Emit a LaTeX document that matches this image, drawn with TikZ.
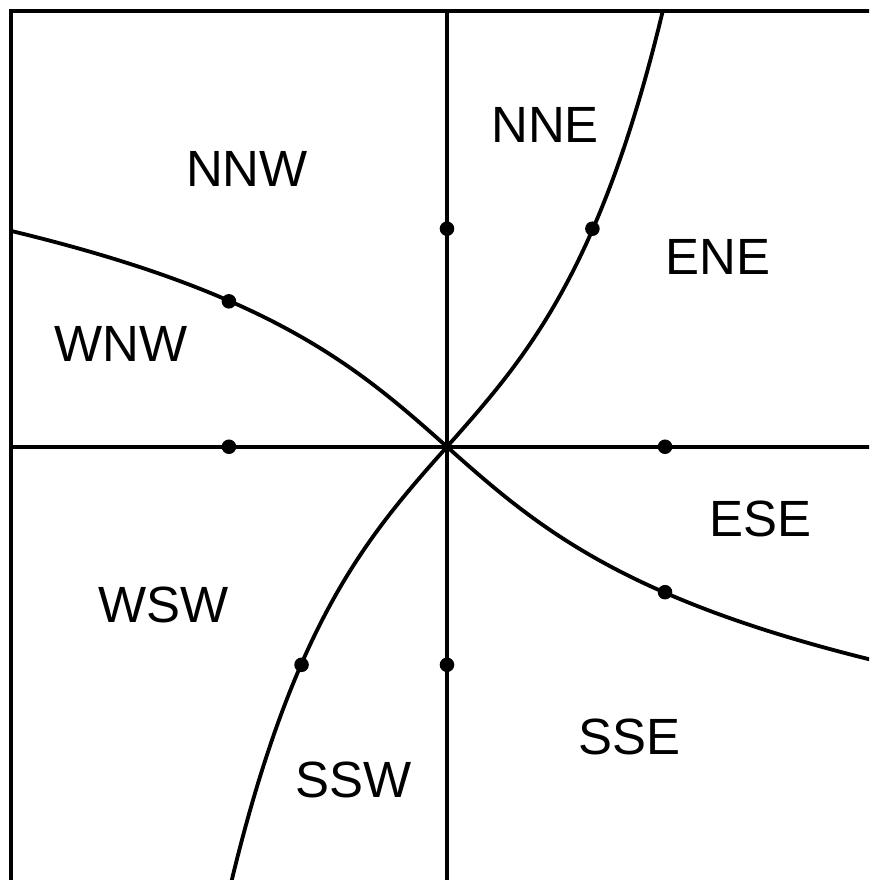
\documentclass[tikz,border=0pt]{standalone}
\usepackage{fontspec}
\setmainfont{Liberation Sans}
\begin{document}
\begin{tikzpicture}[x=2cm,y=2cm,
  ln/.style={line width=1pt,black},
  dot/.style={circle,fill=black,inner sep=0pt,minimum size=3.8pt},
  lbl/.style={inner sep=0pt,font=\fontsize{13.3}{15}\selectfont}]
\useasboundingbox (-2.050,-1.987) rectangle (1.936,2.049);
\clip (-2.050,-1.987) rectangle (1.936,2.049);
\coordinate (O) at (0,0);
\coordinate (W) at (-2,0);
\coordinate (E) at (2,0);
\coordinate (S) at (0,-2);
\coordinate (N) at (0,2);
\draw[ln] (-2,-2) rectangle (2,2);
\draw[ln] (W) -- (E);
\draw[ln] (S) -- (N);
\draw[ln] plot[domain=-0.99:0.99,samples=120,smooth] (\x,{0.563*sinh(2*\x)});
\draw[ln] plot[domain=-0.99:0.99,samples=120,smooth] ({0.563*sinh(2*\x)},-\x);
\node[dot] (d1) at (0,1) {};
\node[dot] (d2) at (0,-1) {};
\node[dot] (d3) at (1,0) {};
\node[dot] (d4) at (-1,0) {};
\node[dot] (d5) at (0.667,1) {};
\node[dot] (d6) at (-0.667,-1) {};
\node[dot] (d7) at (1,-0.667) {};
\node[dot] (d8) at (-1,0.667) {};
\node[lbl] (nne) at (0.450,1.477) {NNE};
\node[lbl] (nnw) at (-0.917,1.275) {NNW};
\node[lbl] (ene) at (1.243,0.872) {ENE};
\node[lbl] (wnw) at (-1.495,0.472) {WNW};
\node[lbl] (ese) at (1.436,-0.330) {ESE};
\node[lbl] (wsw) at (-1.298,-0.725) {WSW};
\node[lbl] (sse) at (0.835,-1.330) {SSE};
\node[lbl] (ssw) at (-0.427,-1.528) {SSW};
\end{tikzpicture}
\end{document}
